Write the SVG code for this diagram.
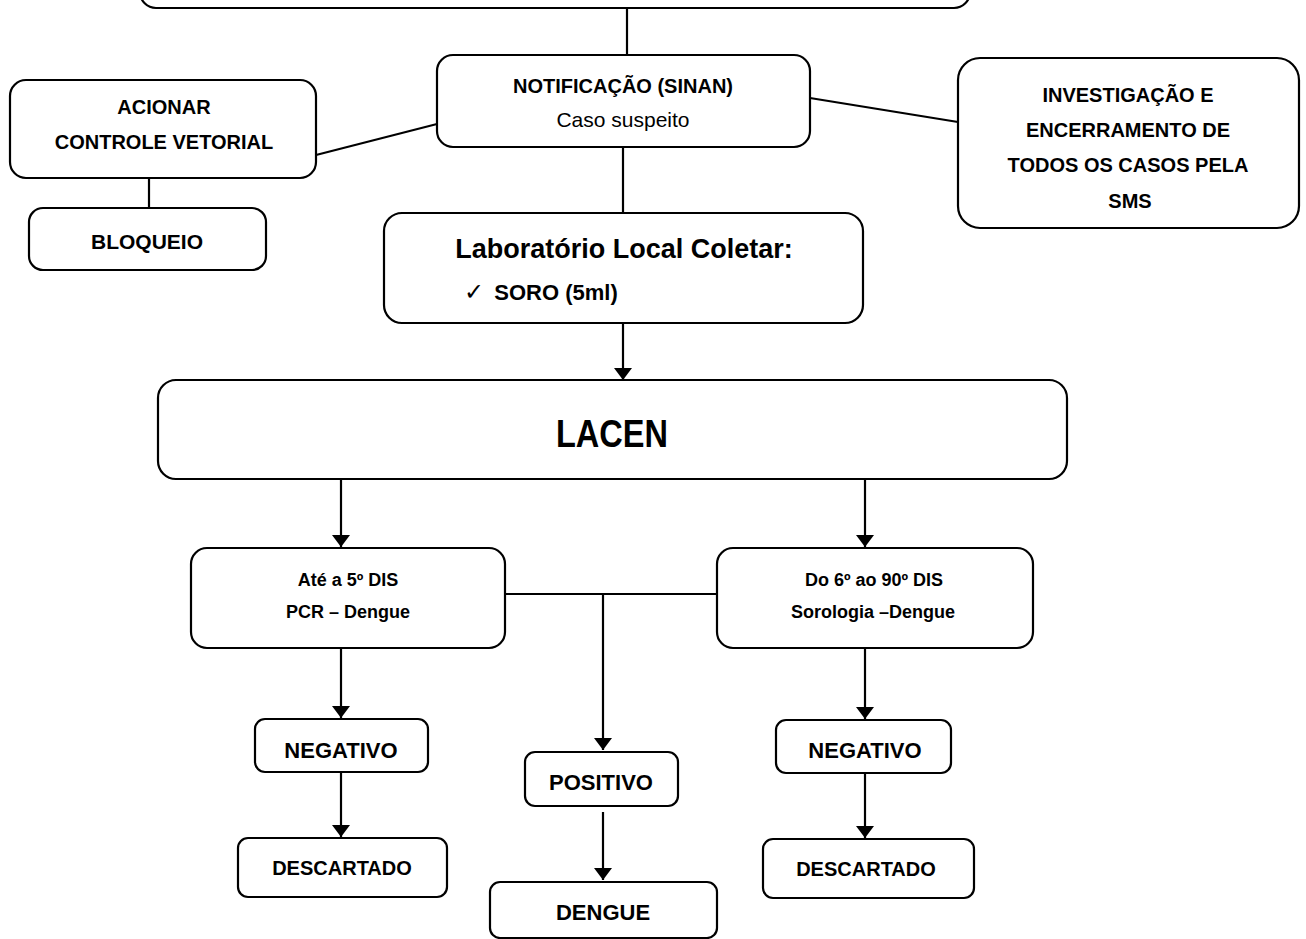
<svg xmlns="http://www.w3.org/2000/svg" width="1306" height="939" viewBox="0 0 1306 939">
<defs>
<marker id="ah" viewBox="0 0 12 18" refX="12" refY="9" markerWidth="12" markerHeight="18" markerUnits="userSpaceOnUse" orient="auto">
<path d="M0,0 L12,9 L0,18 Z" fill="#000"/>
</marker>
<style>
.box{fill:#fff;stroke:#000;stroke-width:2.2}
.ln{fill:none;stroke:#000;stroke-width:2.2}
.ar{fill:none;stroke:#000;stroke-width:2.2;marker-end:url(#ah)}
text{font-family:"Liberation Sans",Arial,sans-serif;font-weight:bold;text-anchor:middle;dominant-baseline:central;fill:#000}
.reg{font-weight:normal}
</style>
</defs>
<rect width="1306" height="939" fill="#fff"/>
<g id="connectors">
<line class="ln" x1="627" y1="8" x2="627" y2="55"/>
<line class="ln" x1="316" y1="155" x2="437" y2="124"/>
<line class="ln" x1="810" y1="98" x2="958" y2="122"/>
<line class="ln" x1="149" y1="178" x2="149" y2="208"/>
<line class="ln" x1="623" y1="147" x2="623" y2="213"/>
<line class="ar" x1="623" y1="322" x2="623" y2="380"/>
<line class="ar" x1="341" y1="479" x2="341" y2="547"/>
<line class="ar" x1="865" y1="479" x2="865" y2="547"/>
<line class="ln" x1="505" y1="594" x2="717" y2="594"/>
<line class="ar" x1="603" y1="594" x2="603" y2="750"/>
<line class="ar" x1="341" y1="648" x2="341" y2="718"/>
<line class="ar" x1="341" y1="772" x2="341" y2="837"/>
<line class="ar" x1="603" y1="812" x2="603" y2="880"/>
<line class="ar" x1="865" y1="648" x2="865" y2="719"/>
<line class="ar" x1="865" y1="773" x2="865" y2="838"/>
</g>
<g id="top">
<rect class="box" x="140" y="-40" width="830" height="48" rx="16"/>
</g>
<g id="notificacao">
<rect class="box" x="437" y="55" width="373" height="92" rx="16"/>
<text x="623" y="86" font-size="20">NOTIFICAÇÃO (SINAN)</text>
<text class="reg" x="623" y="119" font-size="21">Caso suspeito</text>
</g>
<g id="acionar">
<rect class="box" x="10" y="80" width="306" height="98" rx="16"/>
<text x="164" y="107" font-size="20">ACIONAR</text>
<text x="164" y="142" font-size="20">CONTROLE VETORIAL</text>
</g>
<g id="bloqueio">
<rect class="box" x="29" y="208" width="237" height="62" rx="14"/>
<text x="147" y="241" font-size="21">BLOQUEIO</text>
</g>
<g id="investigacao">
<rect class="box" x="958" y="58" width="341" height="170" rx="22"/>
<text x="1128" y="95" font-size="20">INVESTIGAÇÃO E</text>
<text x="1128" y="130" font-size="20">ENCERRAMENTO DE</text>
<text x="1128" y="165" font-size="20">TODOS OS CASOS PELA</text>
<text x="1130" y="201" font-size="20">SMS</text>
</g>
<g id="laboratorio">
<rect class="box" x="384" y="213" width="479" height="110" rx="18"/>
<text x="624" y="249" font-size="27">Laboratório Local Coletar:</text>
<text x="474" y="291" font-size="24" class="reg">✓</text>
<text x="556" y="292" font-size="22">SORO (5ml)</text>
</g>
<g id="lacen">
<rect class="box" x="158" y="380" width="909" height="99" rx="18"/>
<text x="612" y="434" font-size="38" textLength="112" lengthAdjust="spacingAndGlyphs">LACEN</text>
</g>
<g id="ate5">
<rect class="box" x="191" y="548" width="314" height="100" rx="16"/>
<text x="348" y="580" font-size="18">Até a 5º DIS</text>
<text x="348" y="612" font-size="18">PCR – Dengue</text>
</g>
<g id="do6">
<rect class="box" x="717" y="548" width="316" height="100" rx="16"/>
<text x="874" y="580" font-size="18">Do 6º ao 90º DIS</text>
<text x="873" y="612" font-size="18">Sorologia –Dengue</text>
</g>
<g id="negativo1">
<rect class="box" x="255" y="719" width="173" height="53" rx="10"/>
<text x="341" y="750" font-size="22">NEGATIVO</text>
</g>
<g id="descartado1">
<rect class="box" x="238" y="838" width="209" height="59" rx="10"/>
<text x="342" y="868" font-size="20">DESCARTADO</text>
</g>
<g id="positivo">
<rect class="box" x="525" y="752" width="153" height="54" rx="10"/>
<text x="601" y="782" font-size="22">POSITIVO</text>
</g>
<g id="dengue">
<rect class="box" x="490" y="882" width="227" height="56" rx="10"/>
<text x="603" y="912" font-size="22">DENGUE</text>
</g>
<g id="negativo2">
<rect class="box" x="776" y="720" width="175" height="53" rx="10"/>
<text x="865" y="750" font-size="22">NEGATIVO</text>
</g>
<g id="descartado2">
<rect class="box" x="763" y="839" width="211" height="59" rx="10"/>
<text x="866" y="869" font-size="20">DESCARTADO</text>
</g>
</svg>
